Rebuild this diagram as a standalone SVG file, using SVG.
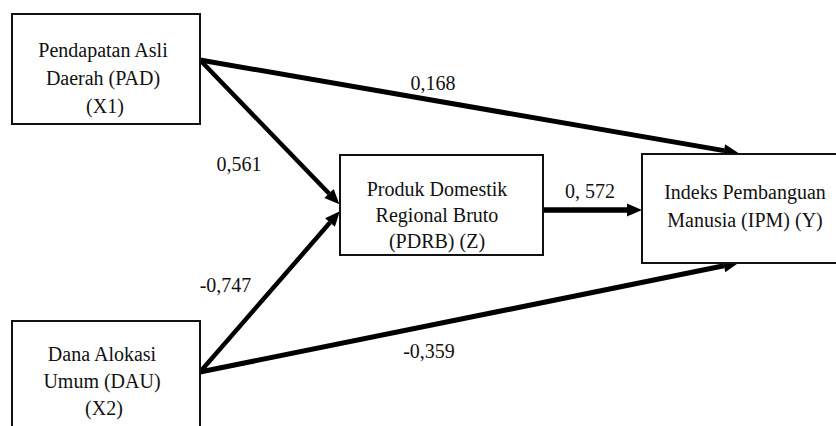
<svg xmlns="http://www.w3.org/2000/svg" width="836" height="426" viewBox="0 0 836 426">
<style>
.box{fill:#fff;stroke:#111;stroke-width:2}
.c{stroke:#000;stroke-width:5;fill:none}
text{font-size:20px;fill:#111;text-anchor:middle}
</style>
<defs>
<marker id="ah" markerUnits="userSpaceOnUse" markerWidth="15" markerHeight="13" refX="0" refY="6.5" orient="auto" overflow="visible">
<path d="M0,0 L15,6.5 L0,13 z" fill="#000"/>
</marker>
</defs>
<rect width="836" height="426" fill="#fff"/>
<g id="connectors">
<line class="c" x1="200" y1="60" x2="724" y2="150.6" marker-end="url(#ah)"/>
<line class="c" x1="200" y1="60" x2="329" y2="193.5" marker-end="url(#ah)" style="stroke-width:4.5"/>
<line class="c" x1="200" y1="372" x2="330" y2="222.6" marker-end="url(#ah)" style="stroke-width:4.5"/>
<line class="c" x1="200" y1="372" x2="724" y2="265.8" marker-end="url(#ah)"/>
<line class="c" x1="543" y1="210" x2="627" y2="210" marker-end="url(#ah)" style="stroke-width:5.5"/>
<text font-family="Times New Roman" x="433" y="90">0,168</text>
<text font-family="Times New Roman" x="239" y="171">0,561</text>
<text font-family="Times New Roman" x="225.5" y="292">-0,747</text>
<text font-family="Times New Roman" x="429" y="358">-0,359</text>
<text font-family="Times New Roman" x="590" y="198">0, 572</text>
</g>
<g id="X1">
<rect class="box" x="12" y="14" width="188" height="110"/>
<text font-family="Times New Roman" x="103" y="57">Pendapatan Asli</text>
<text font-family="Times New Roman" x="103" y="85">Daerah (PAD)</text>
<text font-family="Times New Roman" x="105" y="113">(X1)</text>
</g>
<g id="X2">
<rect class="box" x="12" y="321" width="188" height="120"/>
<text font-family="Times New Roman" x="102" y="361">Dana Alokasi</text>
<text font-family="Times New Roman" x="102" y="388">Umum (DAU)</text>
<text font-family="Times New Roman" x="104" y="415">(X2)</text>
</g>
<g id="Z">
<rect class="box" x="340" y="155" width="203" height="100"/>
<text font-family="Times New Roman" x="437" y="196">Produk Domestik</text>
<text font-family="Times New Roman" x="437" y="222">Regional Bruto</text>
<text font-family="Times New Roman" x="437" y="248">(PDRB) (Z)</text>
</g>
<g id="Y">
<rect class="box" x="642" y="154" width="210" height="109"/>
<text font-family="Times New Roman" x="745" y="199">Indeks Pembanguan</text>
<text font-family="Times New Roman" x="745" y="227">Manusia (IPM) (Y)</text>
</g>
</svg>
